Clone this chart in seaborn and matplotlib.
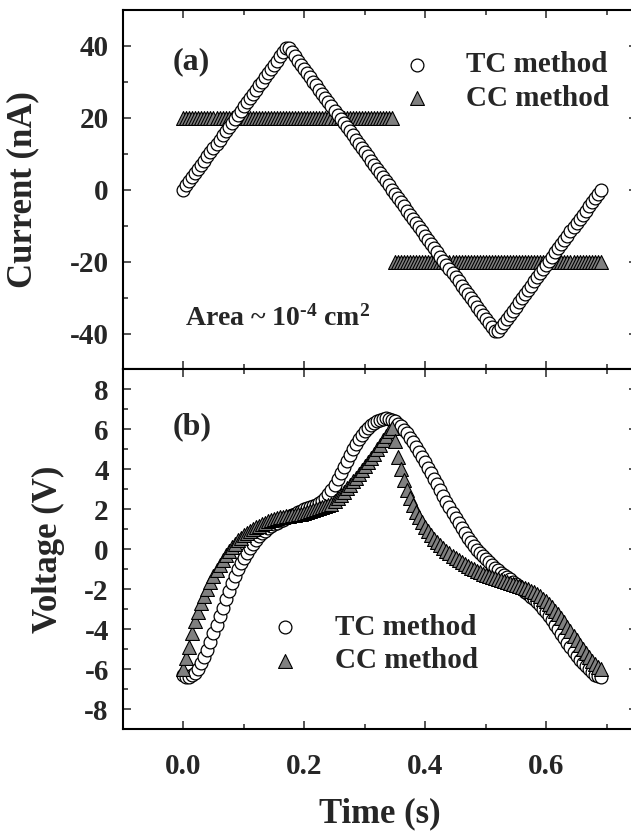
import matplotlib
matplotlib.use("Agg")
import matplotlib.pyplot as plt
from matplotlib.ticker import MultipleLocator
import seaborn as sns

# sampling times (s), shared by all four series
time_s = [
    0.000, 0.005, 0.010, 0.015, 0.020, 0.025, 0.030, 0.035, 0.040, 0.045,
    0.050, 0.055, 0.060, 0.065, 0.070, 0.075, 0.080, 0.085, 0.090, 0.095,
    0.100, 0.105, 0.110, 0.115, 0.120, 0.125, 0.130, 0.135, 0.140, 0.145,
    0.150, 0.155, 0.160, 0.165, 0.170, 0.175, 0.180, 0.185, 0.190, 0.195,
    0.200, 0.205, 0.210, 0.215, 0.220, 0.225, 0.230, 0.235, 0.240, 0.245,
    0.250, 0.255, 0.260, 0.265, 0.270, 0.275, 0.280, 0.285, 0.290, 0.295,
    0.300, 0.305, 0.310, 0.315, 0.320, 0.325, 0.330, 0.335, 0.340, 0.345,
    0.350, 0.355, 0.360, 0.365, 0.370, 0.375, 0.380, 0.385, 0.390, 0.395,
    0.400, 0.405, 0.410, 0.415, 0.420, 0.425, 0.430, 0.435, 0.440, 0.445,
    0.450, 0.455, 0.460, 0.465, 0.470, 0.475, 0.480, 0.485, 0.490, 0.495,
    0.500, 0.505, 0.510, 0.515, 0.520, 0.525, 0.530, 0.535, 0.540, 0.545,
    0.550, 0.555, 0.560, 0.565, 0.570, 0.575, 0.580, 0.585, 0.590, 0.595,
    0.600, 0.605, 0.610, 0.615, 0.620, 0.625, 0.630, 0.635, 0.640, 0.645,
    0.650, 0.655, 0.660, 0.665, 0.670, 0.675, 0.680, 0.685, 0.690,
]

# (a) current, nA
tc_current = [
    0.0, 1.2, 2.3, 3.5, 4.6, 5.8, 7.0, 8.1, 9.3, 10.4,
    11.6, 12.8, 13.9, 15.1, 16.2, 17.4, 18.6, 19.7, 20.9, 22.0,
    23.2, 24.3, 25.5, 26.7, 27.8, 29.0, 30.1, 31.3, 32.5, 33.6,
    34.8, 35.9, 37.1, 38.3, 39.4, 39.4, 38.3, 37.1, 35.9, 34.8,
    33.6, 32.5, 31.3, 30.1, 29.0, 27.8, 26.7, 25.5, 24.3, 23.2,
    22.0, 20.9, 19.7, 18.6, 17.4, 16.2, 15.1, 13.9, 12.8, 11.6,
    10.4, 9.3, 8.1, 7.0, 5.8, 4.6, 3.5, 2.3, 1.2, 0.0,
    -1.2, -2.3, -3.5, -4.6, -5.8, -7.0, -8.1, -9.3, -10.4, -11.6,
    -12.8, -13.9, -15.1, -16.2, -17.4, -18.6, -19.7, -20.9, -22.0, -23.2,
    -24.3, -25.5, -26.7, -27.8, -29.0, -30.1, -31.3, -32.5, -33.6, -34.8,
    -35.9, -37.1, -38.3, -39.4, -39.4, -38.3, -37.1, -35.9, -34.8, -33.6,
    -32.5, -31.3, -30.1, -29.0, -27.8, -26.7, -25.5, -24.3, -23.2, -22.0,
    -20.9, -19.7, -18.6, -17.4, -16.2, -15.1, -13.9, -12.8, -11.6, -10.4,
    -9.3, -8.1, -7.0, -5.8, -4.6, -3.5, -2.3, -1.2, 0.0,
]
cc_current = [
    20, 20, 20, 20, 20, 20, 20, 20, 20, 20,
    20, 20, 20, 20, 20, 20, 20, 20, 20, 20,
    20, 20, 20, 20, 20, 20, 20, 20, 20, 20,
    20, 20, 20, 20, 20, 20, 20, 20, 20, 20,
    20, 20, 20, 20, 20, 20, 20, 20, 20, 20,
    20, 20, 20, 20, 20, 20, 20, 20, 20, 20,
    20, 20, 20, 20, 20, 20, 20, 20, 20, 20,
    -20, -20, -20, -20, -20, -20, -20, -20, -20, -20,
    -20, -20, -20, -20, -20, -20, -20, -20, -20, -20,
    -20, -20, -20, -20, -20, -20, -20, -20, -20, -20,
    -20, -20, -20, -20, -20, -20, -20, -20, -20, -20,
    -20, -20, -20, -20, -20, -20, -20, -20, -20, -20,
    -20, -20, -20, -20, -20, -20, -20, -20, -20, -20,
    -20, -20, -20, -20, -20, -20, -20, -20, -20,
]

# (b) voltage, V
tc_voltage = [
    -6.30, -6.40, -6.40, -6.32, -6.18, -5.98, -5.72, -5.40, -5.02, -4.62,
    -4.20, -3.78, -3.35, -2.92, -2.50, -2.10, -1.70, -1.33, -1.00, -0.70,
    -0.42, -0.17, 0.05, 0.27, 0.47, 0.65, 0.80, 0.93, 1.05, 1.15,
    1.24, 1.32, 1.40, 1.47, 1.55, 1.62, 1.70, 1.78, 1.86, 1.94,
    2.00, 2.05, 2.10, 2.16, 2.22, 2.30, 2.42, 2.58, 2.76, 2.98,
    3.22, 3.50, 3.80, 4.10, 4.40, 4.72, 5.02, 5.28, 5.52, 5.72,
    5.90, 6.06, 6.20, 6.32, 6.42, 6.49, 6.53, 6.55, 6.53, 6.48,
    6.40, 6.29, 6.15, 5.98, 5.80, 5.58, 5.35, 5.10, 4.85, 4.60,
    4.35, 4.08, 3.80, 3.52, 3.25, 2.95, 2.65, 2.38, 2.10, 1.82,
    1.55, 1.30, 1.05, 0.80, 0.55, 0.34, 0.15, -0.03, -0.20, -0.36,
    -0.50, -0.65, -0.80, -0.93, -1.05, -1.18, -1.30, -1.40, -1.50, -1.62,
    -1.75, -1.88, -2.00, -2.12, -2.25, -2.38, -2.50, -2.65, -2.80, -2.97,
    -3.15, -3.35, -3.55, -3.77, -4.00, -4.22, -4.45, -4.68, -4.90, -5.12,
    -5.35, -5.53, -5.70, -5.85, -6.00, -6.15, -6.28, -6.36, -6.40,
]
cc_voltage = [
    -6.00, -5.45, -4.90, -4.20, -3.60, -3.12, -2.70, -2.33, -2.00, -1.66,
    -1.35, -1.06, -0.80, -0.54, -0.30, -0.10, 0.10, 0.28, 0.45, 0.58,
    0.70, 0.80, 0.90, 1.00, 1.10, 1.18, 1.25, 1.33, 1.40, 1.45,
    1.50, 1.55, 1.60, 1.63, 1.66, 1.68, 1.70, 1.73, 1.76, 1.78,
    1.81, 1.85, 1.90, 1.95, 2.00, 2.05, 2.10, 2.15, 2.20, 2.28,
    2.40, 2.55, 2.70, 2.87, 3.05, 3.22, 3.40, 3.57, 3.75, 3.95,
    4.15, 4.35, 4.55, 4.77, 5.00, 5.22, 5.45, 5.67, 5.90, 6.05,
    5.40, 4.60, 4.00, 3.45, 2.95, 2.55, 2.20, 1.88, 1.60, 1.34,
    1.10, 0.90, 0.70, 0.52, 0.35, 0.20, 0.05, -0.08, -0.20, -0.33,
    -0.45, -0.55, -0.65, -0.75, -0.85, -0.93, -1.00, -1.08, -1.15, -1.23,
    -1.30, -1.35, -1.40, -1.45, -1.50, -1.55, -1.60, -1.65, -1.70, -1.75,
    -1.80, -1.85, -1.90, -1.95, -2.00, -2.07, -2.15, -2.25, -2.35, -2.47,
    -2.60, -2.75, -2.90, -3.07, -3.25, -3.45, -3.65, -3.87, -4.10, -4.32,
    -4.55, -4.77, -5.00, -5.20, -5.40, -5.58, -5.75, -5.88, -6.00,
]

sns.set_style("ticks")
plt.rcParams["font.family"] = ["Liberation Serif", "DejaVu Serif"]
plt.rcParams["font.weight"] = "bold"
plt.rcParams["axes.unicode_minus"] = False
plt.rcParams["mathtext.fontset"] = "custom"
plt.rcParams["mathtext.rm"] = "Liberation Serif:bold"
plt.rcParams["mathtext.bf"] = "Liberation Serif:bold"
plt.rcParams["mathtext.it"] = "Liberation Serif:bold"

fig = plt.figure(figsize=(6.31, 8.39), dpi=100)
ax1 = fig.add_axes([0.1945, 0.5596, 0.8151, 0.4285])
ax2 = fig.add_axes([0.1945, 0.1311, 0.8151, 0.4285])

circle_kw = dict(marker="o", s=85, color="white", edgecolor="black", linewidth=0.9)
tri_kw = dict(marker="^", s=100, color="#808080", edgecolor="black", linewidth=0.8)

# (a) current waveforms
sns.scatterplot(x=time_s, y=tc_current, ax=ax1, label="TC method", zorder=3, **circle_kw)
sns.scatterplot(x=time_s, y=cc_current, ax=ax1, label="CC method", zorder=2, **tri_kw)

# (b) voltage responses
sns.scatterplot(x=time_s, y=tc_voltage, ax=ax2, label="TC method", zorder=2, **circle_kw)
sns.scatterplot(x=time_s, y=cc_voltage, ax=ax2, label="CC method", zorder=3, **tri_kw)

for ax in (ax1, ax2):
    ax.set_xlim(-0.1, 0.75)
    ax.xaxis.set_major_locator(MultipleLocator(0.2))
    ax.xaxis.set_minor_locator(MultipleLocator(0.1))
    ax.tick_params(which="both", direction="in", top=True, right=True, width=1.1,
                   labelsize=21)
    ax.tick_params(axis="y", which="both", pad=10)
    ax.tick_params(axis="x", which="both", pad=17)
    ax.tick_params(which="major", length=6)
    ax.tick_params(which="minor", length=3.5)
    for sp in ax.spines.values():
        sp.set_linewidth(1.5)
        sp.set_color("black")
    ax.set_xlabel("")
    ax.set_ylabel("")

ax1.set_ylim(-50, 50)
ax1.yaxis.set_major_locator(MultipleLocator(20))
ax1.yaxis.set_minor_locator(MultipleLocator(10))
ax1.tick_params(labelbottom=False)
ax1.set_ylabel("Current (nA)", fontsize=25, fontweight="bold")
ax1.yaxis.set_label_coords(-0.162, 0.5)

ax2.set_ylim(-9, 9)
ax2.yaxis.set_major_locator(MultipleLocator(2))
ax2.yaxis.set_minor_locator(MultipleLocator(1))
ax2.set_ylabel("Voltage (V)", fontsize=25, fontweight="bold")
ax2.yaxis.set_label_coords(-0.112, 0.5)
ax2.set_xlabel("Time (s)", fontsize=25, fontweight="bold")
ax2.xaxis.set_label_coords(0.5, -0.19)

ax1.text(-0.017, 35.5, "(a)", fontsize=23, fontweight="bold", va="center", ha="left")
ax2.text(-0.017, 6.15, "(b)", fontsize=23, fontweight="bold", va="center", ha="left")
ax1.text(0.003, -35.8, "Area ~ 10$^{\u2010 4}$ cm$^{2}$", fontsize=20, fontweight="bold",
         va="center", ha="left")

leg_kw = dict(frameon=False, fontsize=21, handlelength=1.0, handletextpad=1.2,
              labelspacing=0.22, borderpad=0, borderaxespad=0, loc="upper left")
ax1.legend(bbox_to_anchor=(0.543, 0.885), **leg_kw)
ax2.legend(bbox_to_anchor=(0.287, 0.32), **leg_kw)

fig.savefig("out.png", dpi=100)
